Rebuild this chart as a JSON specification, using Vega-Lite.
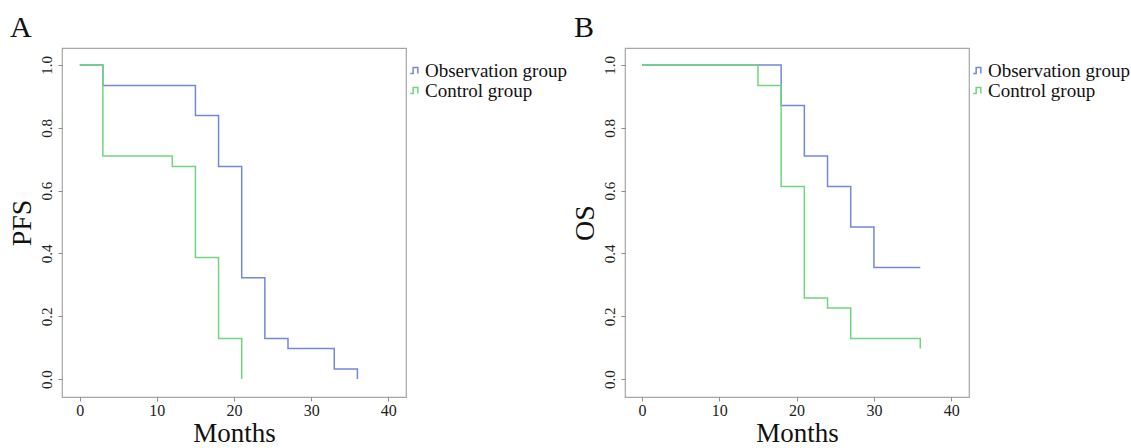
{
  "$schema": "https://vega.github.io/schema/vega-lite/v6.json",
  "padding": {"left": 7, "top": 12, "right": 0, "bottom": 0},
  "background": "white",
  "spacing": 219,
  "bounds": "flush",
  "config": {
    "font": "Liberation Serif",
    "view": {"stroke": "#a6a6a6", "strokeWidth": 1.2},
    "axis": {
      "domain": false, "grid": false, "tickColor": "#8c8c8c", "tickSize": 4, "tickWidth": 1,
      "labelFont": "Liberation Serif", "titleFont": "Liberation Serif",
      "labelColor": "#222222", "titleColor": "#111111", "titleFontWeight": "normal",
      "labelFontSize": 16, "titleFontSize": 28
    },
    "legend": {
      "orient": "none", "legendX": 344, "legendY": 13, "title": null,
      "labelFont": "Liberation Serif", "labelFontSize": 19, "labelColor": "#111111",
      "symbolType": "M-1,0.55L-0.45,0.55L-0.45,-0.55L0.45,-0.55L0.45,0.55",
      "symbolSize": 110, "symbolStrokeWidth": 1.5, "labelOffset": 0, "rowPadding": 0,
      "symbolOffset": 0, "padding": 0
    },
    "title": {"font": "Liberation Serif", "fontSize": 30, "fontWeight": "normal", "color": "#111111", "anchor": "start", "frame": "group", "baseline": "alphabetic", "offset": 5}
  },
  "resolve": {"legend": {"color": "independent"}},
  "datasets": {
    "pfs": [
      {"group": "Observation group", "month": 0, "surv": 1.0},
      {"group": "Observation group", "month": 3, "surv": 0.935},
      {"group": "Observation group", "month": 15, "surv": 0.839},
      {"group": "Observation group", "month": 18, "surv": 0.677},
      {"group": "Observation group", "month": 21, "surv": 0.323},
      {"group": "Observation group", "month": 24, "surv": 0.129},
      {"group": "Observation group", "month": 27, "surv": 0.097},
      {"group": "Observation group", "month": 33, "surv": 0.032},
      {"group": "Observation group", "month": 36, "surv": 0.0},
      {"group": "Control group", "month": 0, "surv": 1.0},
      {"group": "Control group", "month": 3, "surv": 0.71},
      {"group": "Control group", "month": 12, "surv": 0.677},
      {"group": "Control group", "month": 15, "surv": 0.387},
      {"group": "Control group", "month": 18, "surv": 0.129},
      {"group": "Control group", "month": 21, "surv": 0.0}
    ],
    "os": [
      {"group": "Observation group", "month": 0, "surv": 1.0},
      {"group": "Observation group", "month": 18, "surv": 0.871},
      {"group": "Observation group", "month": 21, "surv": 0.71},
      {"group": "Observation group", "month": 24, "surv": 0.613},
      {"group": "Observation group", "month": 27, "surv": 0.484},
      {"group": "Observation group", "month": 30, "surv": 0.355},
      {"group": "Observation group", "month": 36, "surv": 0.355},
      {"group": "Control group", "month": 0, "surv": 1.0},
      {"group": "Control group", "month": 15, "surv": 0.935},
      {"group": "Control group", "month": 18, "surv": 0.613},
      {"group": "Control group", "month": 21, "surv": 0.258},
      {"group": "Control group", "month": 24, "surv": 0.226},
      {"group": "Control group", "month": 27, "surv": 0.129},
      {"group": "Control group", "month": 36, "surv": 0.097}
    ]
  },
  "hconcat": [
    {
      "title": {"text": "A", "dx": -52},
      "width": 344, "height": 349,
      "data": {"name": "pfs"},
      "encoding": {
        "x": {"field": "month", "type": "quantitative", "scale": {"domain": [-2.3, 42.3], "nice": false, "zero": false},
              "axis": {"values": [0, 10, 20, 30, 40], "title": "Months", "labelPadding": 1, "titlePadding": 2, "titleFontSize": 27}},
        "y": {"field": "surv", "type": "quantitative", "scale": {"domain": [-0.057, 1.054], "nice": false, "zero": false},
              "axis": {"values": [0, 0.2, 0.4, 0.6, 0.8, 1.0], "format": ".1f", "title": "PFS", "labelAngle": -90, "labelAlign": "center", "labelBaseline": "alphabetic", "labelPadding": 7, "labelFontSize": 15, "titlePadding": 3}},
        "color": {"field": "group", "type": "nominal", "scale": {"domain": ["Observation group", "Control group"], "range": ["#7388d8", "#6fd67e"]}}
      },
      "layer": [
        {"transform": [{"filter": "datum.group === 'Observation group'"}], "mark": {"type": "line", "interpolate": "step-after", "strokeWidth": 1.5}},
        {"transform": [{"filter": "datum.group === 'Control group'"}], "mark": {"type": "line", "interpolate": "step-after", "strokeWidth": 1.5}}
      ]
    },
    {
      "title": {"text": "B", "dx": -51},
      "width": 344, "height": 349,
      "data": {"name": "os"},
      "encoding": {
        "x": {"field": "month", "type": "quantitative", "scale": {"domain": [-2.2, 42.3], "nice": false, "zero": false},
              "axis": {"values": [0, 10, 20, 30, 40], "title": "Months", "labelPadding": 1, "titlePadding": 2, "titleFontSize": 27}},
        "y": {"field": "surv", "type": "quantitative", "scale": {"domain": [-0.057, 1.054], "nice": false, "zero": false},
              "axis": {"values": [0, 0.2, 0.4, 0.6, 0.8, 1.0], "format": ".1f", "title": "OS", "labelAngle": -90, "labelAlign": "center", "labelBaseline": "alphabetic", "labelPadding": 7, "labelFontSize": 15, "titlePadding": 3}},
        "color": {"field": "group", "type": "nominal", "scale": {"domain": ["Observation group", "Control group"], "range": ["#7388d8", "#6fd67e"]}}
      },
      "layer": [
        {"transform": [{"filter": "datum.group === 'Observation group'"}], "mark": {"type": "line", "interpolate": "step-after", "strokeWidth": 1.5}},
        {"transform": [{"filter": "datum.group === 'Control group'"}], "mark": {"type": "line", "interpolate": "step-after", "strokeWidth": 1.5}}
      ]
    }
  ]
}
